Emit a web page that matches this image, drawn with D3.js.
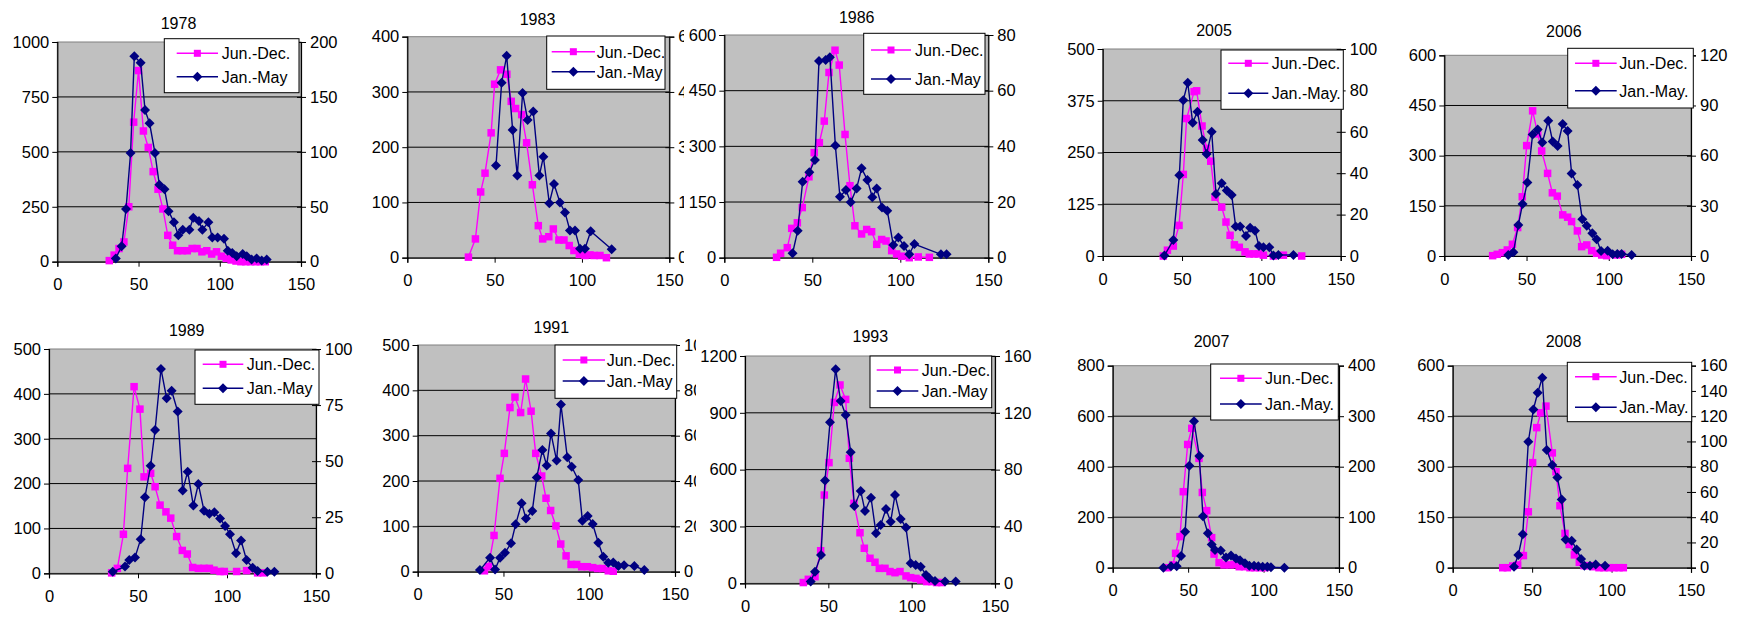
<!DOCTYPE html>
<html>
<head>
<meta charset="utf-8">
<script src="https://cdn.jsdelivr.net/npm/d3@7"></script>
<style>
  body { margin: 0; background: #fff; }
  svg { display: block; }
  text { font-family: Arial, "Liberation Sans", sans-serif; fill: #000; }
</style>
</head>
<body>
<svg id="chart" width="1747" height="621"></svg>
<script>
// ---- Length-frequency series: [length, count] ----
// Jun.-Dec. uses the left axis, Jan.-May the right axis.
const junDec1978 = [[32,5],[35,30],[38,60],[41,90],[44,250],[47,635],[50,870],[53,595],[56,520],[59,410],[62,330],[65,240],[68,120],[71,75],[74,50],[77,50],[80,50],[83,60],[86,60],[89,45],[92,50],[95,35],[98,45],[101,25],[104,15],[107,8],[110,3],[113,0],[116,0],[119,0],[122,0],[125,0],[128,0]];
const janMay1978 = [[36,3],[39.6,14],[42.3,48],[45.1,99],[47.4,187],[51.3,181],[54,138],[56.8,126],[60.1,99],[62.8,70],[66,66],[68.5,46],[71.8,36],[74.5,24],[77.2,29],[81.3,29],[83.7,40],[87.2,37],[89.3,29],[93,36],[95.4,22],[98.7,22],[102.6,21],[104.9,10],[107.7,8],[110.4,5],[114.1,7],[116.6,5],[119.6,2],[122.7,3],[125.8,1],[128.9,2]];

const junDec1983 = [[35,1],[39,34],[42,119],[44.5,153],[48,226],[50,314],[53.4,340],[57,332],[59.5,283],[62,270],[65.5,259],[68.3,208],[71.6,132],[75,58],[77.5,34],[81,38],[83.6,52],[86.8,32],[89.7,32],[92.7,22],[95.4,13],[98.5,6],[101.7,4],[104.6,5],[107,4],[110.3,4],[114,0]];
const janMay1983 = [[50.8,25],[54,47.5],[56.9,54.8],[60.3,34.7],[63,22.3],[66,44.7],[68.9,37.4],[72.1,39.7],[75.6,22.3],[77.9,27.4],[81.3,14.8],[84,20],[87.4,15],[90.3,12.3],[93.1,7.4],[96,7.4],[98.9,2.4],[101.7,2.4],[105,7.2],[117,2.3]];

const junDec1986 = [[29.7,1],[32,12],[35.8,27],[38.3,79],[41.5,94],[44.3,135],[48.1,218],[51.1,283],[54,310],[56.8,368],[59.5,499],[62.9,559],[65.3,519],[68.6,332],[71.4,194],[74.2,86],[78,64],[80.9,76],[83.7,70],[86.6,36],[89.4,49],[91.9,45],[95.1,19],[97.9,10],[100.8,4],[105.1,0],[110.2,2],[116.5,1]];
const janMay1986 = [[38.8,1.6],[41.7,9.7],[44.5,27.3],[48.3,30.7],[51.5,35.1],[53.8,70.7],[57.6,71],[60,72],[63.1,40.3],[65.7,21.9],[69.1,24.3],[71.8,19.9],[75.2,24.9],[78,32.1],[81.3,27.9],[84.1,21.7],[86.6,24.9],[89.6,18],[92.6,16.9],[96,4.6],[98.9,7.3],[102.1,4.2],[105.1,1.2],[108,4.9],[123.1,1.2],[126.3,1.2]];

const junDec2005 = [[38.2,0],[40.8,14],[44.5,24],[48.1,74],[50.8,197],[52.9,332],[57.6,397],[59.2,399],[62.6,314],[65.5,260],[68.1,229],[70.8,142],[75,118],[77.7,82],[80.3,50],[83,27],[86.1,21],[89.7,10],[92.4,5],[95.4,5],[98.1,5],[101.3,2],[107.6,0],[113.9,2],[125.4,0]];
const janMay2005 = [[38.9,0.2],[44.5,7.7],[48.3,39],[50.8,75.3],[53.6,83.7],[56.7,64.4],[59.7,69.7],[63,56],[65.5,49.3],[68.7,60],[71.4,29.9],[75,35.1],[78.2,31.6],[81.3,29.5],[83.8,14.2],[86.6,14.2],[90.3,9.7],[92.9,13.7],[96,12.2],[98.5,4.8],[101.3,4.2],[105,4.2],[107.6,0.3],[110.7,0.5],[120.2,0.5]];

const junDec2006 = [[29.4,1],[32.2,5],[35.3,10],[38.3,18],[41.4,35],[44.6,85],[47.4,177],[50.1,330],[53.7,434],[56.8,365],[59.2,314],[62.8,247],[65.7,189],[68.7,179],[72,123],[75,116],[77.4,103],[80.9,75],[83.5,28],[86.6,33],[89.6,16],[92.6,8],[95.7,3],[98.7,1],[104.8,3],[107.8,5]];
const janMay2006 = [[38.9,0.6],[42,2.2],[45,18.5],[47.6,31.1],[50.5,44],[53.7,72.7],[56.8,75.7],[59.6,67.8],[63.2,80.9],[65.9,68.4],[68.9,65.8],[72,78.9],[75,74.7],[77.4,49.4],[80.9,42.5],[83.9,21.9],[86.6,18.1],[90,13.6],[92.6,10],[95.3,3],[99.3,3.2],[102.4,1],[105.2,1.2],[107.8,1.2],[113.9,0.6]];

const junDec1989 = [[35.2,1],[38.4,11],[41.8,87],[44.2,234],[47.8,416],[51.1,366],[53.4,215],[57.1,223],[59.6,193],[62.4,152],[65.7,137],[68.4,123],[71.7,82],[74.9,51],[77.7,43],[80.7,13],[83.9,11],[87.1,11],[90.1,11],[92.7,7],[96.1,4],[98.5,4],[105.4,4],[111,6],[117.2,1],[120.4,1]];
const janMay1989 = [[35.8,0.7],[42.7,3],[45.1,5.9],[48.3,7],[51.5,15.2],[53.9,33.9],[57.1,48],[59.6,63.9],[62.9,91.1],[66.1,78],[68.9,81.4],[72.3,72.1],[75.1,36.9],[77.9,45.3],[81.1,30.2],[83.9,39.8],[87.1,27.9],[90.1,26.5],[92.9,27.2],[96.1,24.4],[98.9,21.1],[101.7,17.4],[105.1,8.9],[107.9,14.6],[111,5.9],[114.4,2.5],[117.2,1],[122.7,0.7],[126.6,0.7]];

const junDec1991 = [[38.9,2],[41.2,11],[44.5,80],[48,206],[50.5,261],[53.8,362],[56.7,385],[60,351],[62.9,425],[66.1,354],[68.8,261],[72.3,211],[74.8,162],[77.5,135],[80.6,101],[83.4,61],[86.5,35],[89.4,16],[92.7,16],[95.6,11],[98.9,11],[102,9],[104.9,7],[107.8,7],[111.1,2],[114,1]];
const janMay1991 = [[36.3,0.7],[42.2,6.2],[45.1,1],[48,6.2],[50.9,8.4],[54.4,12.5],[57.1,20.9],[60.6,30.2],[63.1,23.5],[66.8,26.8],[69.4,41.6],[72.7,53.7],[75.2,46.8],[77.7,61],[81,49],[83.5,73.8],[87.2,50.5],[89.8,46.3],[93.6,40.5],[96,22.5],[99.1,24.6],[102,21],[105.3,12.8],[108.2,6.6],[111.1,4],[114,4.1],[117,2.5],[120.3,2.9],[126.3,2.5],[132.1,0.7]];

const junDec1993 = [[35,4],[38,21],[42,35],[45.4,172],[47.6,466],[50.4,637],[53.6,955],[57,1047],[60.4,971],[62.6,660],[65.4,422],[69,267],[71.6,185],[75,132],[78,111],[80.6,79],[84,79],[87,62],[90,56],[93,62],[96.6,39],[99.4,30],[102.6,26],[105.4,18],[109,9],[112,9],[115,4],[118,4]];
const janMay1993 = [[39.4,1.2],[42,8.2],[45.6,19.9],[48,72.3],[51,113.3],[54.4,150.6],[57.4,128.3],[60.4,118.5],[63.4,92.2],[65.6,54.4],[69.4,65],[72,50.9],[75.6,60.3],[78.6,35.2],[81.4,41.1],[84.6,52.3],[87.4,43.4],[90,62.2],[93.4,45.3],[96.6,39.2],[99.4,14.1],[102.4,12.9],[105.4,11.7],[108.6,5.9],[110.6,3.5],[114,1.6],[120,1.2],[126.4,1.2]];

const junDec2007 = [[36.2,0],[39.8,11],[41.7,57],[44.6,123],[46.8,301],[49.7,488],[52.4,552],[57.2,433],[59.4,298],[62.3,226],[65.6,119],[67.2,54],[70.5,20],[73.8,11],[77.8,11],[80.6,13],[83.9,4],[87.3,4],[91,0],[94.3,0],[97.6,0],[101,0]];
const janMay2007 = [[33.6,0],[38.7,3],[42.4,3],[45.3,23],[48,71],[50.8,202],[53.9,290],[57.4,221],[59.8,102],[63.1,68],[65.6,46],[67.8,35],[71.6,34],[75.1,20],[78.4,24],[81.7,18],[84.4,15],[87.7,9],[90.6,4],[93.7,4],[96.5,3],[99.4,2],[102.5,2],[104.9,1],[113.8,0]];

const junDec2008 = [[31.5,0],[34.4,0],[37.8,5],[40.9,8],[44.5,36],[47.6,166],[50.3,312],[52.9,416],[55.4,460],[58.7,480],[62.7,341],[65,285],[67.5,184],[70.7,102],[73.4,69],[76.6,38],[79.7,16],[82.7,6],[86,6],[88.9,3],[92.1,0],[95.2,0],[98.6,0],[101.5,0],[104.7,0],[107.4,0]];
const janMay2008 = [[38.6,0.8],[41.3,10],[44.1,26.4],[47.6,99.8],[50.8,125.4],[53.5,138.6],[56.4,150.5],[59.2,93.2],[62.7,81.3],[65.9,71.5],[68.6,54.1],[71.1,22.4],[74.9,21.4],[78,14.5],[80.8,6.9],[82.9,1.6],[86.4,1.6],[90,2.6],[95.9,1.6]];

// ---- Axis ticks ----
const xTicks = [0, 50, 100, 150];
const leftTicks1978 = [0, 250, 500, 750, 1000];   const rightTicks1978 = [0, 50, 100, 150, 200];
const leftTicks1983 = [0, 100, 200, 300, 400];    const rightTicks1983 = [0, 15, 30, 45, 60];
const leftTicks1986 = [0, 150, 300, 450, 600];    const rightTicks1986 = [0, 20, 40, 60, 80];
const leftTicks2005 = [0, 125, 250, 375, 500];    const rightTicks2005 = [0, 20, 40, 60, 80, 100];
const leftTicks2006 = [0, 150, 300, 450, 600];    const rightTicks2006 = [0, 30, 60, 90, 120];
const leftTicks1989 = [0, 100, 200, 300, 400, 500]; const rightTicks1989 = [0, 25, 50, 75, 100];
const leftTicks1991 = [0, 100, 200, 300, 400, 500]; const rightTicks1991 = [0, 20, 40, 60, 80, 100];
const leftTicks1993 = [0, 300, 600, 900, 1200];   const rightTicks1993 = [0, 40, 80, 120, 160];
const leftTicks2007 = [0, 200, 400, 600, 800];    const rightTicks2007 = [0, 100, 200, 300, 400];
const leftTicks2008 = [0, 150, 300, 450, 600];    const rightTicks2008 = [0, 20, 40, 60, 80, 100, 120, 140, 160];

// ---- Legend labels ----
const seriesA = "Jun.-Dec.";
const seriesB = "Jan.-May";
const seriesBdot = "Jan.-May.";

// ---- Panels (data) ----
const panels = [
  { title: "1978", jd: junDec1978, jm: janMay1978, lt: leftTicks1978, rt: rightTicks1978, lb: seriesB },
  { title: "1983", jd: junDec1983, jm: janMay1983, lt: leftTicks1983, rt: rightTicks1983, lb: seriesB },
  { title: "1986", jd: junDec1986, jm: janMay1986, lt: leftTicks1986, rt: rightTicks1986, lb: seriesB },
  { title: "2005", jd: junDec2005, jm: janMay2005, lt: leftTicks2005, rt: rightTicks2005, lb: seriesBdot },
  { title: "2006", jd: junDec2006, jm: janMay2006, lt: leftTicks2006, rt: rightTicks2006, lb: seriesBdot },
  { title: "1989", jd: junDec1989, jm: janMay1989, lt: leftTicks1989, rt: rightTicks1989, lb: seriesB },
  { title: "1991", jd: junDec1991, jm: janMay1991, lt: leftTicks1991, rt: rightTicks1991, lb: seriesB },
  { title: "1993", jd: junDec1993, jm: janMay1993, lt: leftTicks1993, rt: rightTicks1993, lb: seriesB },
  { title: "2007", jd: junDec2007, jm: janMay2007, lt: leftTicks2007, rt: rightTicks2007, lb: seriesBdot },
  { title: "2008", jd: junDec2008, jm: janMay2008, lt: leftTicks2008, rt: rightTicks2008, lb: seriesBdot }
];

// ---- Panel geometry (same order as panels) ----
// area: chart frame [x, y, w, h]; plot: [left, top, right, bottom];
// title: [cx, cy]; legend: [x, y, w, h, sampleX, sampleW, textX, row1Y, row2Y]
const layout = [
  { area: [0, 0, 345, 303],     plot: [57.3, 42, 301, 261.7],      title: [178.5, 23],   legend: [164.3, 38.7, 134.7, 54, 176.7, 41.3, 221.7, 53.3, 76.7] },
  { area: [345, 0, 339, 303],   plot: [407.3, 36.7, 669.3, 257.7], title: [537.5, 19],   legend: [546.7, 36, 118.3, 53.3, 551.7, 43.3, 596.7, 51.7, 71.7] },
  { area: [684, 0, 356, 303],   plot: [724.3, 35, 988.3, 257.7],   title: [856.7, 16.7], legend: [863.7, 33.3, 121.3, 61, 871, 40, 915, 50, 79] },
  { area: [1040, 0, 352, 303],  plot: [1102.7, 49, 1340.7, 256],   title: [1214, 30],    legend: [1221, 50, 122.3, 59.3, 1228.3, 40, 1271.7, 63.3, 93.3] },
  { area: [1392, 0, 355, 303],  plot: [1444.3, 55.3, 1691, 256],   title: [1563.8, 30.7],legend: [1567.7, 48.3, 125.6, 59.7, 1575, 41.7, 1619.3, 63.3, 90.7] },
  { area: [0, 303, 355, 318],   plot: [49, 349, 316, 573.3],       title: [186.7, 330],  legend: [195, 350, 124, 54.3, 202.7, 40.6, 246.7, 364.3, 388.3] },
  { area: [355, 303, 341, 318], plot: [417.7, 345, 675, 571.7],    title: [551.3, 326.7],legend: [555, 345, 121.7, 53.3, 562.7, 42.3, 606.7, 360, 381] },
  { area: [696, 303, 344, 318], plot: [745, 356, 995, 583.3],      title: [870.3, 336],  legend: [870, 356, 121.7, 51.7, 876.7, 41.6, 921.7, 370, 391] },
  { area: [1040, 303, 352, 318],plot: [1112.7, 365.7, 1339, 567.7],title: [1211.5, 341], legend: [1210.7, 364, 127.6, 56, 1220, 41.7, 1265, 378.3, 404] },
  { area: [1392, 303, 355, 318],plot: [1452.7, 365.7, 1691, 567.7],title: [1563.5, 340.7],legend: [1567.3, 362.3, 124.4, 59.4, 1575, 41.7, 1619.3, 376.7, 407.3] }
];

const PINK = "#ff00ff";
const NAVY = "#000080";
const FS = 16.5;

const svg = d3.select("#chart");
svg.append("rect").attr("width", 1747).attr("height", 621).attr("fill", "#fff");
const defs = svg.append("defs");

function square(sel, cx, cy, s, color) {
  sel.append("rect").attr("x", cx - s / 2).attr("y", cy - s / 2)
    .attr("width", s).attr("height", s).attr("fill", color);
}
function diamond(sel, cx, cy, r, color) {
  sel.append("path")
    .attr("d", `M${cx},${cy - r}L${cx + r},${cy}L${cx},${cy + r}L${cx - r},${cy}Z`)
    .attr("fill", color);
}

panels.forEach((p, i) => {
  const L = layout[i];
  const [left, top, right, bottom] = L.plot;

  // each chart is clipped to its own frame; later frames sit on top of earlier ones
  const clipId = "frame" + p.title;
  defs.append("clipPath").attr("id", clipId).append("rect")
    .attr("x", L.area[0]).attr("y", L.area[1]).attr("width", L.area[2]).attr("height", L.area[3]);
  const g = svg.append("g").attr("clip-path", `url(#${clipId})`);

  g.append("rect").attr("x", L.area[0]).attr("y", L.area[1])
    .attr("width", L.area[2]).attr("height", L.area[3]).attr("fill", "#fff");

  const x = d3.scaleLinear().domain([0, 150]).range([left, right]);
  const yL = d3.scaleLinear().domain([0, d3.max(p.lt)]).range([bottom, top]);
  const yR = d3.scaleLinear().domain([0, d3.max(p.rt)]).range([bottom, top]);

  // plot area
  g.append("rect").attr("x", left).attr("y", top)
    .attr("width", right - left).attr("height", bottom - top)
    .attr("fill", "#c0c0c0").attr("stroke", "#808080").attr("stroke-width", 1);

  // horizontal gridlines at left-axis ticks
  g.selectAll(null).data(p.lt.filter(t => t > 0 && t < d3.max(p.lt))).enter().append("line")
    .attr("x1", left).attr("x2", right)
    .attr("y1", d => yL(d)).attr("y2", d => yL(d))
    .attr("stroke", "#000").attr("stroke-width", 1);

  const axL = g.append("g").attr("transform", `translate(${left},0)`)
    .call(d3.axisLeft(yL).tickValues(p.lt).tickSize(5).tickPadding(3).tickFormat(d3.format("d")));
  const axR = g.append("g").attr("transform", `translate(${right},0)`)
    .call(d3.axisRight(yR).tickValues(p.rt).tickSize(5).tickPadding(4).tickFormat(d3.format("d")));
  const axB = g.append("g").attr("transform", `translate(0,${bottom})`)
    .call(d3.axisBottom(x).tickValues(xTicks).tickSize(5).tickPadding(12).tickFormat(d3.format("d")));

  [axL, axR, axB].forEach(ax => {
    ax.select(".domain").attr("stroke", "#000").attr("stroke-width", 1.2);
    ax.selectAll(".tick line").attr("stroke", "#000").attr("stroke-width", 1);
    ax.selectAll(".tick text").attr("font-size", FS)
      .attr("font-family", 'Arial, "Liberation Sans", sans-serif').attr("fill", "#000");
  });
  // right-axis ticks cross the axis line
  axR.selectAll(".tick line").attr("x1", -4);

  // series
  const lineL = d3.line().x(d => x(d[0])).y(d => yL(d[1]));
  const lineR = d3.line().x(d => x(d[0])).y(d => yR(d[1]));

  g.append("path").datum(p.jd).attr("d", lineL)
    .attr("fill", "none").attr("stroke", PINK).attr("stroke-width", 1.4);
  const mjd = g.append("g");
  p.jd.forEach(d => square(mjd, x(d[0]), yL(d[1]), 7.5, PINK));

  g.append("path").datum(p.jm).attr("d", lineR)
    .attr("fill", "none").attr("stroke", NAVY).attr("stroke-width", 1.4);
  const mjm = g.append("g");
  p.jm.forEach(d => diamond(mjm, x(d[0]), yR(d[1]), 5, NAVY));

  // legend
  const [lx, ly, lw, lh, sx, sw, tx, r1, r2] = L.legend;
  const lg = g.append("g");
  lg.append("rect").attr("x", lx).attr("y", ly).attr("width", lw).attr("height", lh)
    .attr("fill", "#fff").attr("stroke", "#000").attr("stroke-width", 1);
  lg.append("line").attr("x1", sx).attr("x2", sx + sw).attr("y1", r1).attr("y2", r1)
    .attr("stroke", PINK).attr("stroke-width", 1.4);
  square(lg, sx + sw / 2, r1, 7, PINK);
  lg.append("text").attr("x", tx).attr("y", r1 + 6).attr("font-size", FS - 0.5).text(seriesA);
  lg.append("line").attr("x1", sx).attr("x2", sx + sw).attr("y1", r2).attr("y2", r2)
    .attr("stroke", NAVY).attr("stroke-width", 1.4);
  diamond(lg, sx + sw / 2, r2, 5, NAVY);
  lg.append("text").attr("x", tx).attr("y", r2 + 6).attr("font-size", FS - 0.5).text(p.lb);

  // title
  g.append("text").attr("x", L.title[0]).attr("y", L.title[1] + 6)
    .attr("text-anchor", "middle").attr("font-size", 16).text(p.title);
});
</script>
</body>
</html>
